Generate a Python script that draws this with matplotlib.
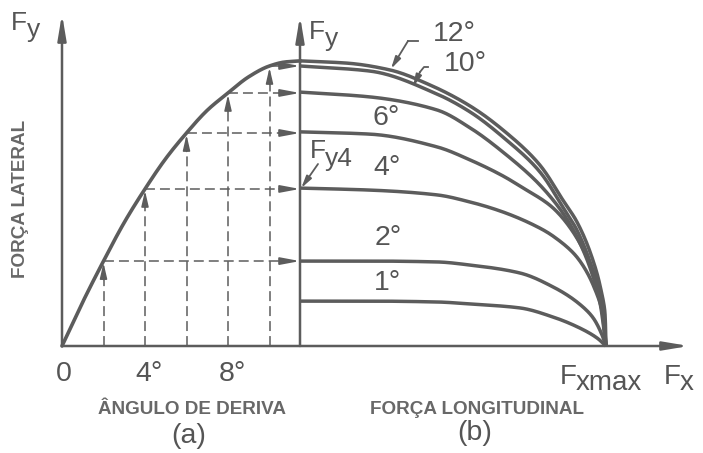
import numpy as np
import matplotlib
matplotlib.use("Agg")
import matplotlib.pyplot as plt
from matplotlib.patches import ArrowStyle

plt.rcParams['font.family'] = ['Liberation Sans', 'DejaVu Sans']

# ---- (a) lateral force versus slip angle ----
slip_deg = [0, 1, 2, 3, 4, 5, 6, 7, 8, 9, 10, 10.75, 11.5]
lateral_force = [0, 15.5, 29.9, 43.5, 55.3, 66.0, 75.0, 83.0, 89.1, 94.8, 98.6, 100.0, 100.4]
projected_angles = [2, 4, 6, 8, 10]
angle_ticks = [0, 4, 8]
angle_tick_labels = ['0', '4°', '8°']

# ---- (b) lateral force versus longitudinal force (Fx / Fxmax) ----
fx_12 = [0, 0.154, 0.294, 0.425, 0.556, 0.663, 0.784, 0.859, 0.905, 0.948, 0.980, 0.997, 1.0]
fy_12 = [100.4, 99.6, 97.2, 91.9, 84.5, 76.1, 63.7, 51.4, 43.7, 33.1, 21.5, 10.9, 0]
fx_10 = [0, 0.229, 0.448, 0.556, 0.663, 0.784, 0.859, 0.905, 0.948, 0.980, 1.0]
fy_10 = [98.6, 96.8, 88.7, 82.4, 73.6, 61.3, 48.9, 40.8, 29.6, 18.0, 0]
fx_8 = [0, 0.229, 0.448, 0.556, 0.663, 0.784, 0.859, 0.905, 0.948, 0.980, 1.0]
fy_8 = [89.4, 87.7, 83.1, 76.8, 68.3, 56.7, 46.8, 38.4, 27.5, 15.5, 0]
fx_6 = [0, 0.229, 0.448, 0.556, 0.663, 0.719, 0.827, 0.905, 0.958, 0.990, 1.0]
fy_6 = [75.4, 74.6, 70.1, 65.5, 59.9, 56.3, 48.6, 38.0, 26.1, 13.4, 0]
fx_4 = [0, 0.229, 0.448, 0.556, 0.663, 0.784, 0.827, 0.905, 0.958, 0.990, 1.0]
fy_4 = [55.6, 54.9, 53.2, 50.7, 47.2, 41.5, 38.7, 31.3, 21.5, 10.9, 0]
fx_2 = [0, 0.229, 0.448, 0.556, 0.719, 0.827, 0.905, 0.958, 0.987, 1.0]
fy_2 = [29.9, 29.9, 29.6, 28.5, 25.7, 20.8, 15.5, 9.9, 3.9, 0]
fx_1 = [0, 0.229, 0.448, 0.556, 0.719, 0.827, 0.915, 0.971, 1.0]
fy_1 = [15.8, 15.8, 15.5, 14.8, 13.4, 10.2, 6.3, 2.8, 0]
curve_labels = ['12°', '10°', '6°', '4°', '2°', '1°']

INK = '#5c5c5c'
TXT = '#555555'
BOLD_TXT = '#686868'

W, H = 703, 453
BASE_Y = 346          # baseline row
FY_PX = 2.84          # pixels per lateral-force unit
DEG_PX = 20.75        # pixels per degree in (a)
A_X0 = 62             # origin of (a)
B_X0 = 300            # origin of (b)
FXMAX_PX = 306        # pixels from origin of (b) to Fxmax

NUM_FS = 20.5
SYM_FS = 19
BIG_FS = 20
BOLD_FS = 13.6

fig = plt.figure(figsize=(W / 100, H / 100), dpi=100)
fig.patch.set_facecolor('white')
ylim = (-(H - BASE_Y) / FY_PX, BASE_Y / FY_PX)

ax_a = fig.add_axes([0, 0, B_X0 / W, 1])
ax_a.set_xlim(-A_X0 / DEG_PX, (B_X0 - A_X0) / DEG_PX)
ax_b = fig.add_axes([B_X0 / W, 0, (W - B_X0) / W, 1])
ax_b.set_xlim(0, (W - B_X0) / FXMAX_PX)
for ax in (ax_a, ax_b):
    ax.set_ylim(*ylim)
    ax.axis('off')
    ax.patch.set_alpha(0)

A_RIGHT = ax_a.get_xlim()[1]


def pchip(t, y, tt):
    t = np.asarray(t, float); y = np.asarray(y, float)
    h = np.diff(t); d = np.diff(y) / h
    m = np.zeros_like(y)
    m[0], m[-1] = d[0], d[-1]
    for k in range(1, len(y) - 1):
        if d[k - 1] * d[k] > 0:
            w1 = 2 * h[k] + h[k - 1]; w2 = h[k] + 2 * h[k - 1]
            m[k] = (w1 + w2) / (w1 / d[k - 1] + w2 / d[k])
    idx = np.clip(np.searchsorted(t, tt) - 1, 0, len(t) - 2)
    hk = h[idx]; s = (tt - t[idx]) / hk
    h00 = 2 * s**3 - 3 * s**2 + 1; h10 = s**3 - 2 * s**2 + s
    h01 = -2 * s**3 + 3 * s**2; h11 = s**3 - s**2
    return h00 * y[idx] + h10 * hk * m[idx] + h01 * y[idx + 1] + h11 * hk * m[idx + 1]


def smooth(xs, ys, sx, sy, n=300):
    xs = np.asarray(xs, float); ys = np.asarray(ys, float)
    seg = np.hypot(np.diff(xs) * sx, np.diff(ys) * sy)
    t = np.concatenate([[0], np.cumsum(seg)])
    tt = np.linspace(0, t[-1], n)
    return pchip(t, xs, tt), pchip(t, ys, tt)


def head(length_px, width_px):
    return ArrowStyle('-|>', head_length=length_px * 0.72 / 10, head_width=width_px * 0.72 / 20)


def fxy(x, y):
    return (x / W, 1 - y / H)


# axes of both panels
axis_kw = dict(arrowstyle=head(21, 7), color=INK, lw=1.8, shrinkA=0, shrinkB=0)
ax_a.annotate('', xy=(0, (BASE_Y - 14) / FY_PX), xytext=(0, 0), arrowprops=axis_kw)
ax_b.annotate('', xy=(0, (BASE_Y - 16) / FY_PX), xytext=(0, 0), arrowprops=axis_kw)
ax_b.annotate('', xy=((689 - B_X0) / FXMAX_PX, 0), xytext=(0, 0),
              textcoords=ax_a.transData, arrowprops=axis_kw)

# (a) characteristic curve
cx, cy = smooth(slip_deg, lateral_force, DEG_PX, FY_PX)
ax_a.plot(cx, cy, color=INK, lw=2.6, solid_capstyle='round', clip_on=False)

force_at = dict(zip(slip_deg, lateral_force))
dash = (0, (6.5, 3.3))
for ang in projected_angles:
    fy = force_at[ang]
    ax_a.plot([ang, ang], [0, fy - 5], color=INK, lw=1.1, ls=dash)
    ax_a.annotate('', xy=(ang, fy - 0.6), xytext=(ang, fy - 6.5),
                  arrowprops=dict(arrowstyle=head(13, 6), color=INK, lw=1.1, shrinkA=0, shrinkB=0))
    ax_a.plot([ang, A_RIGHT - 0.9], [fy, fy], color=INK, lw=1.1, ls=dash)
    ax_a.annotate('', xy=(A_RIGHT, fy), xytext=(A_RIGHT - 1.0, fy),
                  arrowprops=dict(arrowstyle=head(16, 6), color=INK, lw=1.3, shrinkA=0, shrinkB=0))

for a, lab in zip(angle_ticks, angle_tick_labels):
    ax_a.text(a + (0.2 if lab != '0' else 0.1), -10.0, lab, ha='center', va='center',
              fontsize=NUM_FS, color=TXT)

# (b) curves
b_curves = [(fx_12, fy_12), (fx_10, fy_10), (fx_8, fy_8), (fx_6, fy_6),
            (fx_4, fy_4), (fx_2, fy_2), (fx_1, fy_1)]
for xs, ys in b_curves:
    bx, by = smooth(xs, ys, FXMAX_PX, FY_PX)
    ax_b.plot(bx, by, color=INK, lw=2.5, solid_capstyle='butt', clip_on=False)

# curve labels
label_pos = [(454, 34), (465, 64), (386, 118), (387, 168), (388, 238), (388, 283)]
for lab, (x, y) in zip(curve_labels, label_pos):
    ax_b.text((x - B_X0) / FXMAX_PX, (BASE_Y - y) / FY_PX, lab,
              ha='center', va='center', fontsize=NUM_FS, color=TXT)

# leaders for 12° and 10°
lead_kw = dict(arrowstyle=head(10, 5), color=INK, lw=1.3, shrinkA=0, shrinkB=0)
fig.add_artist(plt.Line2D([408 / W, 418 / W], [1 - 41 / H, 1 - 41 / H], color=INK, lw=1.3))
ax_b.annotate('', xy=((391 - B_X0) / FXMAX_PX, 97.6), xytext=fxy(408, 41),
              textcoords='figure fraction', arrowprops=lead_kw)
fig.add_artist(plt.Line2D([420 / W, 424 / W, 428 / W], [1 - 72 / H, 1 - 67 / H, 1 - 67 / H],
                          color=INK, lw=1.3))
ax_b.annotate('', xy=((413 - B_X0) / FXMAX_PX, 91.3), xytext=fxy(420, 72),
              textcoords='figure fraction', arrowprops=lead_kw)

# Fy4 marker
ax_b.annotate('', xy=(0.004, fy_4[0]), xytext=fxy(318, 164),
              textcoords='figure fraction', arrowprops=lead_kw)
fig.text(*fxy(310, 158), 'F', ha='left', va='baseline', fontsize=SYM_FS, color=TXT)
fig.text(*fxy(325, 166), 'y4', ha='left', va='baseline', fontsize=SYM_FS, color=TXT)

# axis symbols
fig.text(*fxy(11, 30), 'F', ha='left', va='baseline', fontsize=SYM_FS, color=TXT)
fig.text(*fxy(27, 37), 'y', ha='left', va='baseline', fontsize=SYM_FS, color=TXT)
fig.text(*fxy(309, 39), 'F', ha='left', va='baseline', fontsize=SYM_FS, color=TXT)
fig.text(*fxy(325, 46), 'y', ha='left', va='baseline', fontsize=SYM_FS, color=TXT)
fig.text(*fxy(560, 384), 'F', ha='left', va='baseline', fontsize=BIG_FS, color=TXT)
fig.text(*fxy(576, 390), 'xmax', ha='left', va='baseline', fontsize=BIG_FS, color=TXT)
fig.text(*fxy(664, 384), 'F', ha='left', va='baseline', fontsize=BIG_FS, color=TXT)
fig.text(*fxy(680, 390), 'x', ha='left', va='baseline', fontsize=BIG_FS, color=TXT)

# panel titles
fig.text(*fxy(192, 410), 'ÂNGULO DE DERIVA', ha='center', va='center',
         fontsize=BOLD_FS, fontweight='bold', color=BOLD_TXT)
fig.text(*fxy(477, 410), 'FORÇA LONGITUDINAL', ha='center', va='center',
         fontsize=BOLD_FS, fontweight='bold', color=BOLD_TXT)
fig.text(*fxy(21, 199), 'FORÇA LATERAL', ha='center', va='center', rotation=90,
         fontsize=BOLD_FS, fontweight='bold', color=BOLD_TXT)
fig.text(*fxy(189, 436), '(a)', ha='center', va='center', fontsize=NUM_FS, color=TXT)
fig.text(*fxy(475, 433), '(b)', ha='center', va='center', fontsize=NUM_FS, color=TXT)

fig.savefig('out.png', dpi=100)
